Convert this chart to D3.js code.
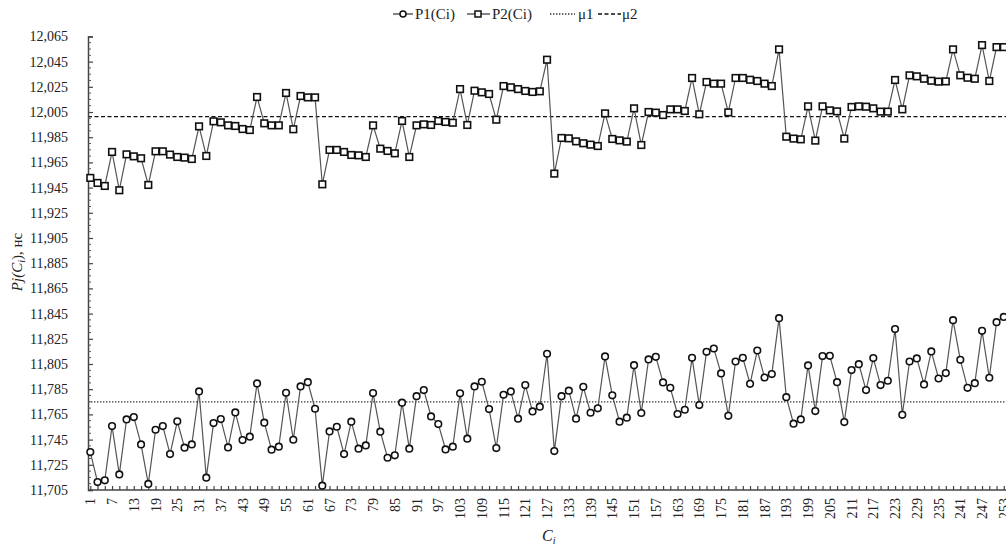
<!DOCTYPE html>
<html lang="en">
<head>
  <meta charset="UTF-8" />
  <title>Pj(Ci)</title>
  <script src="https://cdn.jsdelivr.net/npm/d3@7/dist/d3.min.js"></script>
  <style>
    body { margin: 0; background: #fff; }
    text { font-family: "Liberation Serif", "Times New Roman", serif; fill: #222; }
  </style>
</head>
<body>
<div id="chart"></div>
<script>
  // categories: Ci = 1, 3, 5 ... 253
  var categories = [1,3,5,7,9,11,13,15,17,19,21,23,25,27,29,31,33,35,37,39,41,43,45,47,49,51,53,55,57,59,61,63,
    65,67,69,71,73,75,77,79,81,83,85,87,89,91,93,95,97,99,101,103,105,107,109,111,113,115,117,119,121,123,125,127,
    129,131,133,135,137,139,141,143,145,147,149,151,153,155,157,159,161,163,165,167,169,171,173,175,177,179,181,183,185,187,189,191,
    193,195,197,199,201,203,205,207,209,211,213,215,217,219,221,223,225,227,229,231,233,235,237,239,241,243,245,247,249,251,253];

  var p1 = [11735.1,11711.3,11712.7,11755.7,11717.4,11761.0,11762.9,11741.2,11709.8,11752.8,11755.7,11733.5,11759.5,11738.6,11741.2,11783.2,
    11714.8,11758.1,11761.3,11738.8,11766.6,11744.6,11747.3,11789.6,11758.4,11737.0,11739.4,11782.2,11744.9,11787.2,11790.6,11769.5,
    11708.4,11751.5,11755.2,11733.5,11759.2,11737.8,11740.4,11781.9,11751.3,11730.6,11732.5,11774.3,11737.8,11779.5,11784.3,11763.4,
    11757.3,11737.2,11739.4,11781.7,11745.7,11787.2,11790.9,11769.2,11738.3,11780.6,11783.2,11761.6,11788.3,11767.4,11771.1,11813.1,
    11735.9,11779.5,11783.8,11761.6,11786.9,11766.3,11769.8,11811.0,11780.1,11759.2,11762.4,11804.1,11766.1,11808.6,11810.7,11790.4,
    11786.1,11765.3,11768.7,11809.9,11772.4,11814.7,11817.3,11797.5,11763.9,11807.0,11809.9,11789.3,11815.7,11794.3,11797.0,11841.4,
    11778.7,11757.6,11761.0,11803.9,11767.6,11811.3,11811.5,11790.6,11758.9,11800.2,11804.9,11784.3,11809.7,11788.3,11791.7,11832.7,
    11764.7,11807.0,11809.4,11788.8,11815.0,11793.5,11797.8,11839.8,11808.3,11786.1,11789.8,11831.3,11794.1,11838.2,11842.4];

  var p2 = [11952.7,11948.7,11946.3,11973.3,11942.9,11971.4,11969.8,11968.3,11947.1,11973.8,11973.8,11971.2,11969.3,11968.8,11967.7,11993.6,
    11970.1,11997.6,11996.8,11994.4,11993.9,11991.5,11990.7,12016.9,11996.0,11994.4,11994.4,12020.1,11991.3,12017.7,12016.6,12016.6,
    11947.6,11974.9,11974.9,11973.3,11970.9,11970.6,11969.3,11994.4,11975.9,11974.1,11972.2,11997.9,11969.3,11994.4,11995.2,11994.7,
    11997.9,11997.1,11996.5,12023.2,11994.7,12021.9,12020.6,12019.3,11998.9,12025.6,12024.6,12023.2,12021.7,12020.9,12021.4,12046.5,
    11956.1,11984.4,11984.1,11981.7,11980.2,11979.1,11978.0,12003.9,11983.6,11982.5,11981.5,12007.9,11978.8,12005.0,12004.5,12002.6,
    12007.1,12007.1,12005.8,12032.0,12003.2,12028.8,12027.5,12027.5,12004.7,12032.0,12032.0,12030.6,12029.6,12027.5,12025.6,12054.7,
    11985.4,11983.9,11983.3,12009.5,11982.3,12009.5,12006.3,12005.5,11983.9,12009.0,12009.5,12009.2,12007.9,12005.3,12005.3,12030.4,
    12007.1,12034.1,12033.3,12031.4,12029.8,12029.1,12029.3,12054.7,12034.1,12032.2,12031.4,12058.1,12029.6,12056.5,12056.5];

  var mu1 = 11775;
  var mu2 = 12001.3;

  var yTicks = [11705,11725,11745,11765,11785,11805,11825,11845,11865,11885,11905,11925,11945,11965,11985,12005,12025,12045,12065];
  var xLabels = [1,7,13,19,25,31,37,43,49,55,61,67,73,79,85,91,97,103,109,115,121,127,133,139,145,151,157,163,169,175,181,187,
    193,199,205,211,217,223,229,235,241,247,253];

  var W = 1006, H = 548;
  var axisX = 88, axisY = 490;

  var svg = d3.select("#chart").append("svg")
    .attr("width", W)
    .attr("height", H);

  var x = d3.scaleLinear().domain([1, 253]).range([90.3, 1003.8]);
  var y = d3.scaleLinear().domain([11705, 12065]).range([490, 36.4]);
  var fmt = d3.format(",");

  // mean lines
  svg.append("line")
    .attr("x1", axisX).attr("x2", W)
    .attr("y1", y(mu1)).attr("y2", y(mu1))
    .attr("stroke", "#333").attr("stroke-width", 1.3)
    .attr("stroke-dasharray", "1.4,1.6");
  svg.append("line")
    .attr("x1", axisX).attr("x2", W)
    .attr("y1", y(mu2)).attr("y2", y(mu2))
    .attr("stroke", "#111").attr("stroke-width", 1.4)
    .attr("stroke-dasharray", "4,2.5");

  // y axis, ticks pointing inward
  var yAxis = d3.axisLeft(y).tickValues(yTicks).tickFormat(fmt).tickSize(-5).tickPadding(20);
  var gy = svg.append("g").attr("transform", "translate(" + axisX + ",0)").call(yAxis);
  gy.select(".domain").attr("stroke", "#444").attr("stroke-width", 1.5);
  gy.selectAll(".tick line").attr("stroke", "#444").attr("stroke-width", 1.2);
  gy.selectAll("text").attr("font-size", "14px").attr("fill", "#222")
    .style("font-family", "'Liberation Serif', 'Times New Roman', serif");

  // minor y ticks
  var minor = d3.range(11705, 12066, 5).filter(function (v) { return (v - 11705) % 20 !== 0; });
  svg.append("g").selectAll("line").data(minor).enter().append("line")
    .attr("x1", axisX).attr("x2", axisX + 3)
    .attr("y1", function (d) { return y(d); }).attr("y2", function (d) { return y(d); })
    .attr("stroke", "#555").attr("stroke-width", 1);

  // x axis
  var xAxis = d3.axisBottom(x).tickValues(categories).tickSize(-4).tickFormat("");
  var gx = svg.append("g").attr("transform", "translate(0," + axisY + ")").call(xAxis);
  gx.select(".domain").remove();
  gx.selectAll(".tick line").attr("stroke", "#444").attr("stroke-width", 1.2);
  svg.append("line")
    .attr("x1", axisX).attr("x2", W)
    .attr("y1", axisY).attr("y2", axisY)
    .attr("stroke", "#444").attr("stroke-width", 1.5);

  svg.append("g").selectAll("text").data(xLabels).enter().append("text")
    .attr("transform", function (d) { return "translate(" + (x(d) + 5) + "," + (axisY + 8) + ") rotate(-90)"; })
    .attr("text-anchor", "end")
    .attr("font-size", "14px")
    .text(function (d) { return d; });

  // series lines
  var line = d3.line()
    .x(function (d, i) { return x(categories[i]); })
    .y(function (d) { return y(d); });

  svg.append("path").datum(p1)
    .attr("d", line).attr("fill", "none")
    .attr("stroke", "#555").attr("stroke-width", 1.2);
  svg.append("path").datum(p2)
    .attr("d", line).attr("fill", "none")
    .attr("stroke", "#555").attr("stroke-width", 1.2);

  svg.append("g").selectAll("circle").data(p1).enter().append("circle")
    .attr("cx", function (d, i) { return x(categories[i]); })
    .attr("cy", function (d) { return y(d); })
    .attr("r", 3.3)
    .attr("fill", "#fff").attr("stroke", "#111").attr("stroke-width", 1.6);

  svg.append("g").selectAll("rect").data(p2).enter().append("rect")
    .attr("x", function (d, i) { return x(categories[i]) - 3.3; })
    .attr("y", function (d) { return y(d) - 3.3; })
    .attr("width", 6.6).attr("height", 6.6)
    .attr("fill", "#fff").attr("stroke", "#111").attr("stroke-width", 1.6);

  // axis titles
  var yt = svg.append("text")
    .attr("transform", "translate(22,262) rotate(-90)")
    .attr("text-anchor", "middle")
    .attr("font-size", "15px");
  yt.append("tspan").attr("font-style", "italic").text("Pj(C");
  yt.append("tspan").attr("font-style", "italic").attr("font-size", "10px").attr("dy", 3).text("i");
  yt.append("tspan").attr("dy", -3).text("), нс");

  var xt = svg.append("text")
    .attr("x", 542).attr("y", 541)
    .attr("font-size", "16px").attr("font-style", "italic");
  xt.append("tspan").text("C");
  xt.append("tspan").attr("font-size", "10px").attr("dy", 3).text("i");

  // legend
  var lg = svg.append("g").attr("transform", "translate(0,14)");
  lg.append("line").attr("x1", 393).attr("x2", 413).attr("stroke", "#333").attr("stroke-width", 1.2);
  lg.append("circle").attr("cx", 403).attr("r", 3).attr("fill", "#fff").attr("stroke", "#111").attr("stroke-width", 1.5);
  lg.append("text").attr("x", 415).attr("y", 5).attr("font-size", "15px").text("P1(Ci)");
  lg.append("line").attr("x1", 467).attr("x2", 490).attr("stroke", "#333").attr("stroke-width", 1.2);
  lg.append("rect").attr("x", 475).attr("y", -3).attr("width", 6).attr("height", 6)
    .attr("fill", "#fff").attr("stroke", "#111").attr("stroke-width", 1.5);
  lg.append("text").attr("x", 492).attr("y", 5).attr("font-size", "15px").text("P2(Ci)");
  lg.append("line").attr("x1", 550).attr("x2", 575).attr("stroke", "#333").attr("stroke-width", 1.3)
    .attr("stroke-dasharray", "1.4,1.6");
  lg.append("text").attr("x", 578).attr("y", 5).attr("font-size", "15px").text("μ1");
  lg.append("line").attr("x1", 598).attr("x2", 621).attr("stroke", "#111").attr("stroke-width", 1.4)
    .attr("stroke-dasharray", "4,2.5");
  lg.append("text").attr("x", 622).attr("y", 5).attr("font-size", "15px").text("μ2");
</script>
</body>
</html>
